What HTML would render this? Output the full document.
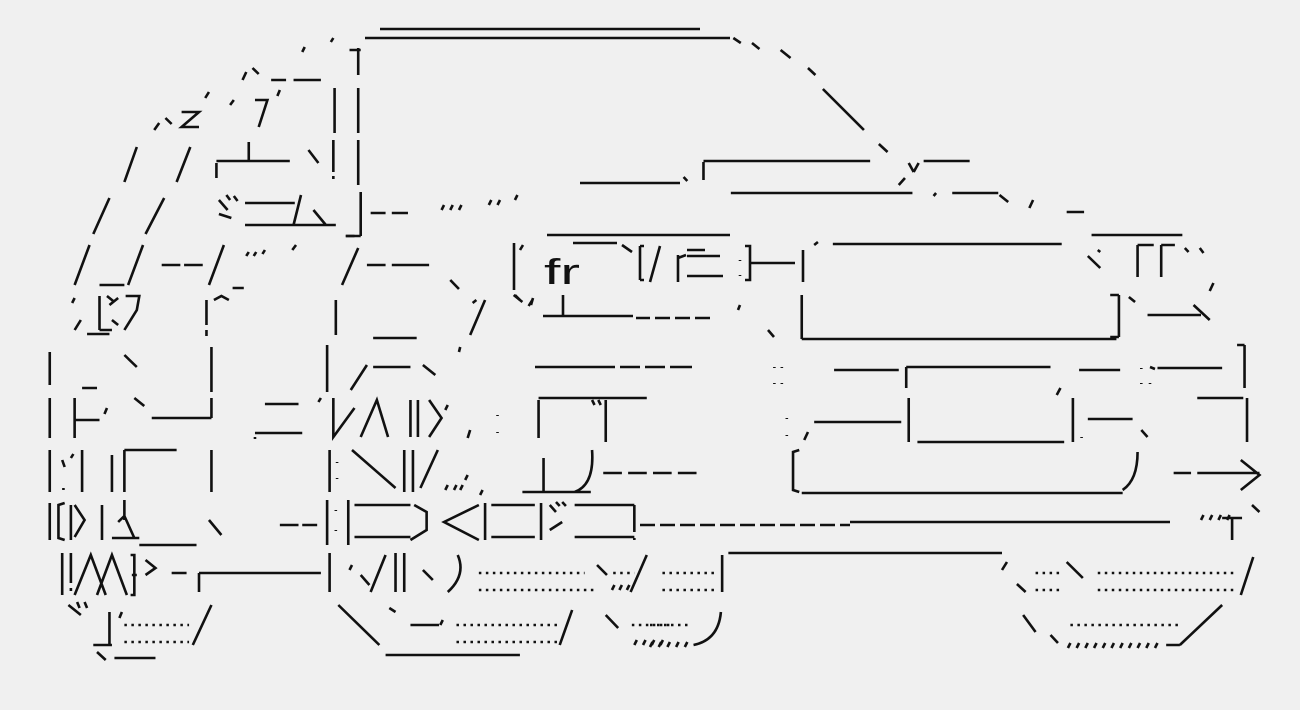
<!DOCTYPE html>
<html><head><meta charset="utf-8"><style>
html,body{margin:0;padding:0;background:#f0f0f0;}
svg{display:block}
text{font-family:"Liberation Sans","Noto Sans CJK JP",sans-serif;fill:#111;}
path{vector-effect:non-scaling-stroke;}
</style></head><body>
<svg width="1300" height="710" viewBox="0 0 1300 710" xmlns="http://www.w3.org/2000/svg">
<rect width="1300" height="710" fill="#f0f0f0"/>
<g stroke="#111" stroke-width="2.6" fill="none" stroke-linecap="butt">
<!-- true coordinates -->
<path d="M380 29H700 M365 38H730"/>
<path d="M580 183H680"/>
<!-- headlight -->
<path d="M547 235H730 M514 243V290 M523 245L520 250 M573 243H617 M622 245L632 252 M640 246V280 M640 246H644 M640 280H644 M660 246L650 282 M678 255V282 M678 258L686 255 M687 250H705 M687 256H720 M687 276H723 M740 260V261 M740 275V276 M745 246H750V280H745 M750 263H795 M803 250V282"/>
<path d="M515 295L520 300 M533 298L531 305 M563 295V315 M543 316H633 M636 318H650 M655 318H670 M675 318H690 M695 318H710 M740 305L738 310 M768 330L774 337"/>
<path d="M535 367H615 M620 367H640 M645 367H665 M670 367H692"/>
<path d="M640 525H655 M660 525H675 M680 525H695 M700 525H715 M720 525H735 M740 525H755 M760 525H775 M780 525H795 M800 525H815 M820 525H835 M840 525H850 M850 522H1170"/>
</g>
<!-- group A: left half (scaled) -->
<g stroke="#111" stroke-width="2.6" fill="none" stroke-linecap="butt" transform="scale(1.2438,1)">
<path d="M245 47L243 52 M268 38L266 42 M288 48V75 M281 50H290 M288 88V133 M269 88V133 M288 140V185 M290 192V236 M278 236H290"/>
<path d="M198 72L195 80 M203 68L208 74 M218 80H230 M236 80H258"/>
<path d="M146 112H160L146 127H160 M128 123L124 130 M133 118L138 124 M168 92L165 98 M205 100H215L208 127 M188 100L185 105 M225 90L223 96"/>
<path d="M110 147L100 182 M153 147L142 182"/>
<path d="M174 178V163 M174 161H233 M200 142V161 M248 150L256 163 M268 140V172 M268 176V179"/>
<path d="M88 198L75 234 M132 198L117 234"/>
<path d="M176 200L183 210 M182 195L185 200 M188 196L191 201 M176 214L186 218 M197 203H237 M197 225H270 M242 195L236 225 M252 210L262 225 M298 213H310 M315 213H328 M278 236H285"/>
<path d="M357 205L355 210 M364 205L362 210 M371 205L369 210 M395 200L393 205 M402 200L400 205 M416 195L414 200"/>
<path d="M72 245L60 285 M115 245L103 285 M80 285H100 M130 265H145 M148 265H163 M180 245L168 285 M187 288H196 M200 252L198 256 M206 252L204 256 M213 250L211 254 M238 245L235 250"/>
<path d="M288 248L275 285 M295 265H310 M315 265H345 M362 280L369 289"/>
<path d="M390 300L378 335 M383 300L380 303"/>
<path d="M60 298L58 303 M65 320L60 330 M86 296L91 301 M95 298L88 305 M90 320L95 325 M80 296V330 M80 330H90 M101 296H112 L110 310 L100 330 M70 334H88 M166 300V325 M166 330V336 M172 300L178 296L184 300"/>
<path d="M270 300V335 M300 338H335 M413 295L420 302 M428 300L425 306"/>
<path d="M40 352V385 M100 355L110 367 M170 347V392 M263 345V392 M295 365L282 390 M300 367H330 M340 365L350 375 M370 347L369 352"/>
<path d="M40 398V438 M60 398V438 M60 420H80 M66 388H78 M86 408L84 414 M108 398L116 406 M122 418H170 M170 398V418 M205 437V439 M213 404H240 M205 433H243 M258 398L256 402 M268 398V437 L285 408 M290 437L303 400 L312 437 M330 400V437 M336 400V437 M345 400L355 418 L345 437 M360 405L358 410 M378 430L376 438 M400 415V416 M400 432V433"/>
<path d="M433 400V438 M433 398H520 M476 400L478 405 M481 400L483 405 M487 400V442"/>
<path d="M40 450V492 M51 488V490 M59 454L57 458 M50 460L52 467 M66 450V492 M90 455V492 M100 450V492 M100 450H142 M170 450V492 M265 450V492 M271 462V463 M271 478V479 M283 450L318 488 M325 450V492 M332 450V492 M352 450L338 488 M358 490L360 485 M365 490L367 485 M370 490L372 485 M376 475L374 480 M388 490L386 495"/>
<path d="M420 492H475 M437 458V492 M476 450 Q478 485 462 492 M485 473H500 M505 473H520 M525 473H540 M545 473H560"/>
<path d="M40 503V540 M52 503L47 505V538L52 540 M57 505V540 M60 505L68 520L60 537 M82 505V540 M100 500V520 M90 538H112 M95 522L100 516 L108 538 M112 545H158 M168 520L178 535"/>
<path d="M225 525H240 M243 525H255 M263 500V545 M270 510V511 M270 530V531 M280 500V545 M285 505H330 M285 537H330 M333 505L343 512 L343 530 L330 540 M385 505L357 522 L385 540 M390 503V540 M395 505H430 M395 537H430 M435 503V540 M442 505L447 512 M447 502L450 506 M452 502L455 506 M442 530L452 522 M462 505H510 M462 537H510 M510 505V532 M510 538V540"/>
<path d="M50 553V595 M57 553V583 M57 588V591 M60 595L73 555 L85 595 M78 595L90 555 L102 595 M105 555H108V595H105 M106 575H110 M117 560L125 568 L117 575 M138 573H150 M160 573H258 M160 573V592 M265 553V592 M283 565L281 570 M290 575L297 585 M310 555L298 592 M318 553V592 M325 553V592 M340 570L348 580 M368 555 Q375 575 360 592"/>
<path d="M480 565L488 575 M492 590L494 585 M498 590L500 585 M504 590L506 585 M520 555L507 592"/>
<path stroke-dasharray="2.5 4.5" stroke-width="2.4" d="M385 573H470 M385 590H478 M493 573H510 M100 625H152 M100 642H152 M367 625H450 M367 642H450 M508 625H540"/>
<path d="M55 605L65 615 M62 602L64 608 M68 602L70 608 M88 612V645 M75 645H90 M98 612L96 618 M170 605L155 645 M78 652L85 660 M92 658H125 M272 605L305 645 M313 608L318 612 M330 625H353 M356 620L354 625 M460 610L450 645 M487 615L497 628 M310 655H418"/>
<path d="M510 645L512 640 M517 645L519 640 M524 645L526 640 M531 645L533 640"/>
</g>
<!-- group B: right half (scaled about x=650) -->
<g stroke="#111" stroke-width="2.6" fill="none" stroke-linecap="butt" transform="matrix(1.2438,0,0,1,-158.47,0)">
<path d="M717 38L723 43 M732 43L738 49 M755 50L763 58 M777 68L783 75 M789 89L822 130 M834 144L841 152"/>
<path d="M677 177L680 181 M693 162V180 M693 161H827 M715 193H861 M855 178L850 185 M858 163L862 172 M866 163L862 172 M870 161H907 M880 193L878 196 M893 193H930 M931 195L938 202 M958 200L955 208 M985 212H999"/>
<path d="M782 245L785 242 M797 244H981 M772 295V339 M772 339H1025 M1027 295V337 M1020 337H1027 M1020 295H1027 M1035 297L1040 302 M1050 315H1093 M1087 305L1100 320 M1103 283L1100 291"/>
<path d="M1005 235H1078 M1002 256L1012 268 M1010 250L1012 252 M1042 245V277 M1042 245H1055 M1061 245V277 M1061 245H1072 M1080 248L1083 252 M1092 248L1095 253 M1128 345V388 M1122 345H1128"/>
<path d="M1095 515L1093 520 M1102 515L1100 520 M1109 515L1107 520 M1116 515L1114 520 M1118 518V540 M1110 518H1126 M1134 505L1140 512"/>
<path d="M713 553H933 M708 555V592 M937 562L933 570 M945 584L952 592 M985 562L998 578 M1135 557L1125 595"/>
<path stroke-dasharray="2.5 4.5" stroke-width="2.4" d="M660 573H703 M660 590H703 M960 573H980 M960 590H980 M1010 573H1120 M1010 590H1120 M650 625H683 M988 625H1075"/>
<path d="M707 612 Q705 640 685 645 M650 647L652 642 M657 647L659 642 M664 647L666 642 M671 647L673 642 M678 647L680 642"/>
<path d="M950 615L960 632 M972 635L978 643 M986 648L988 643 M993 648L995 643 M1000 648L1002 643 M1007 648L1009 643 M1014 648L1016 643 M1021 648L1023 643 M1028 648L1030 643 M1035 648L1037 643 M1042 648L1044 643 M1049 648L1051 643 M1056 648L1058 643 M1065 645H1076 M1076 645L1110 605"/>
<path d="M750 367V368 M756 367V368 M750 383V384 M756 383V384 M798 370H850 M856 367V388 M856 367H972 M980 388L977 395 M995 370H1028 M1045 368V369 M1045 383V384 M1052 383V384 M1052 367L1056 369 M1058 368H1110 M1090 398H1127 M1130 398V442"/>
<path d="M760 418V419 M760 435V436 M777 432L774 440 M782 422H852 M858 398V442 M865 442H983 M990 398V442 M997 437V438 M1002 419H1038 M1045 430L1050 437"/>
<path d="M770 450L765 452 V490 L770 492 M772 493H1030 M1042 452 Q1042 480 1030 490 M1071 473H1085 M1090 473H1140 M1125 460L1140 475 L1125 490"/>
</g>
<text x="544" y="284" font-size="36" textLength="36" lengthAdjust="spacingAndGlyphs">fr</text>
</svg>
</body></html>
